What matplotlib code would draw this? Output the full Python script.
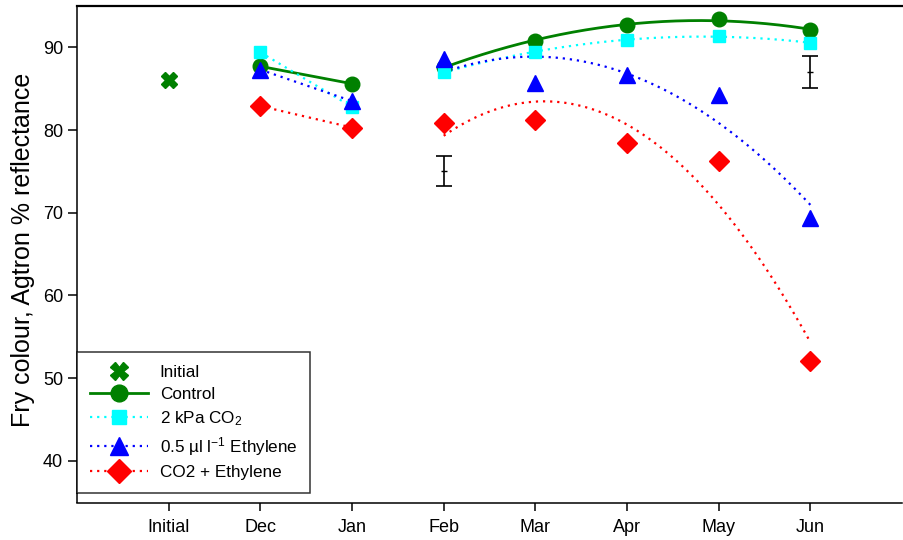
import numpy as np
import matplotlib
matplotlib.use('Agg')
import matplotlib.pyplot as plt

plt.rcParams['font.family'] = ['Liberation Sans', 'DejaVu Sans']
plt.rcParams['mathtext.fontset'] = 'custom'
plt.rcParams['mathtext.rm'] = 'Liberation Sans'

# months on the x axis (0 = Initial)
months = ['Initial', 'Dec', 'Jan', 'Feb', 'Mar', 'Apr', 'May', 'Jun']

initial_x = [0]
initial_y = [86.1]

x_pts = [1, 2, 3, 4, 5, 6, 7]
control = [87.7, 85.6, 87.6, 90.8, 92.7, 93.4, 92.1]
co2 = [89.4, 82.8, 87.0, 89.4, 90.9, 91.4, 90.5]
ethylene = [87.3, 83.5, 88.6, 85.7, 86.7, 84.2, 69.3]
co2_eth = [82.9, 80.3, 80.8, 81.2, 78.4, 76.2, 52.1]

# LSD bars
err_x = [3, 7]
err_y = [75.0, 87.0]
err_half = [1.8, 1.9]

series = [
    ('Control', control, '#008000', 'o', 10.5, '-', 2.0),
    ('2 kPa CO$\\mathregular{_2}$', co2, '#00ffff', 's', 9, (0, (1, 2.2)), 1.6),
    ('0.5 \u00b5l l$\\mathregular{^{-1}}$ Ethylene', ethylene, '#0000ff', '^', 11.5, (0, (1, 2.2)), 1.6),
    ('CO2 + Ethylene', co2_eth, '#ff0000', 'D', 10.5, (0, (1, 2.2)), 1.6),
]

fig = plt.figure(figsize=(9.04, 5.40), dpi=100)
ax = fig.add_axes([0.0852, 0.087, 0.9126, 0.9019])

handles = []
ax.plot(initial_x, initial_y, ls='none', marker='X', ms=11, color='#008000', mec='#008000')
h0, = ax.plot([], [], ls='none', marker='X', ms=12.5, color='#008000',
              mec='#008000', label='Initial')
handles.append(h0)

for name, vals, col, mk, ms, ls, lw in series:
    # Dec-Jan joined straight
    ax.plot(x_pts[:2], vals[:2], ls=ls, lw=lw, color=col)
    # Feb-Jun quadratic fit
    coef = np.polyfit(x_pts[2:], vals[2:], 2)
    xx = np.linspace(3, 7, 200)
    ax.plot(xx, np.polyval(coef, xx), ls=ls, lw=lw, color=col)
    ax.plot(x_pts, vals, ls='none', marker=mk, ms=ms, color=col, mec=col, zorder=3)
    h, = ax.plot([], [], ls=ls, lw=lw, marker=mk, ms=ms * 1.15, color=col, mec=col, label=name)
    handles.append(h)

ax.errorbar(err_x, err_y, yerr=err_half, fmt='_', ms=5, color='black',
            ecolor='black', elinewidth=1.2, capsize=5.8, capthick=1.2)

ax.set_xlim(-1, 8)
ax.set_ylim(36.1, 95)
ax.set_xticks(range(len(months)))
ax.set_xticklabels(months)
ax.set_yticks([40, 50, 60, 70, 80, 90])
ax.set_xticks([-1], minor=True)
ax.tick_params(axis='x', which='minor', direction='in', length=7.2, width=1.1)
ax.tick_params(axis='both', which='major', labelsize=13, width=1.1, length=5.5)
ax.tick_params(axis='x', which='major', pad=6)
ax.tick_params(axis='y', length=6.5)

ax.spines['right'].set_visible(False)
ax.spines['bottom'].set_position(('outward', 7.2))
for s in ['left', 'bottom', 'top']:
    ax.spines[s].set_linewidth(1.1)
ax.spines['top'].set_linewidth(1.6)

ax.set_ylabel('Fry colour, Agtron % reflectance', fontsize=18, labelpad=6)

leg = ax.legend(handles=handles, loc='lower left', bbox_to_anchor=(0, 0),
                borderaxespad=0, fontsize=12.3, frameon=True, fancybox=False,
                handlelength=3.4, handletextpad=0.7, labelspacing=0.42,
                borderpad=0.75, numpoints=1)
leg.get_frame().set_edgecolor('black')
leg.get_frame().set_linewidth(1.1)

fig.savefig('out.png', dpi=100)
